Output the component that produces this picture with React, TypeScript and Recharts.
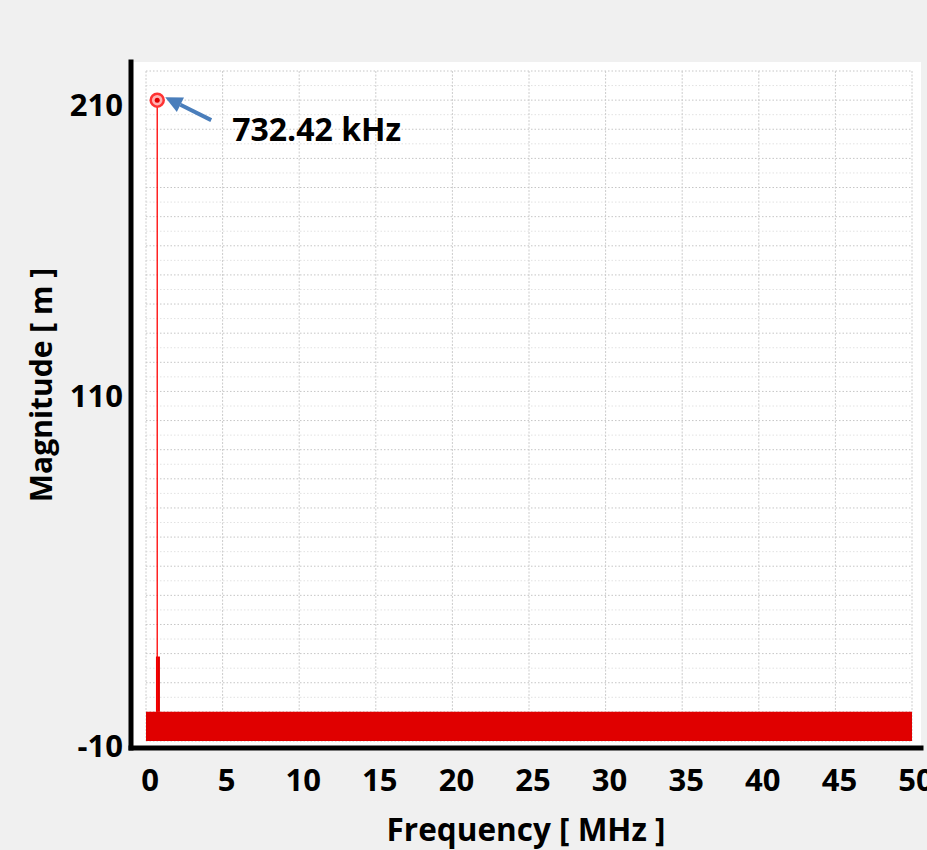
import React from 'react';
import { ComposedChart, XAxis, YAxis, Line, Area, Scatter, CartesianGrid } from 'recharts';

// spectrum values, frequency in MHz, magnitude in m
const freqTicks = [0, 5, 10, 15, 20, 25, 30, 35, 40, 45, 50];
const magTicks = [-10, 110, 210];
const noiseFloor = [
  { f: 0, band: [-10, 0] },
  { f: 50, band: [-10, 0] },
];
const peakStem = [
  { f: 0.732, v: 0 },
  { f: 0.732, v: 210 },
];
const sideSpike = [
  { f: 0.78, v: 0 },
  { f: 0.78, v: 19 },
];
const peakPoint = [{ f: 0.732, v: 210 }];
const peakLabel = '732.42 kHz';

// dotted grid every 5 units, darker every 10
const gridMajor = [-10, 0, 10, 20, 30, 40, 50, 60, 70, 80, 90, 100, 110, 120, 130, 140, 150, 160, 170, 180, 190, 200, 210, 220];
const gridMinor = [-5, 5, 15, 25, 35, 45, 55, 65, 75, 85, 95, 105, 115, 125, 135, 145, 155, 165, 175, 185, 195, 205, 215];

const FONT = '"Open Sans", Lato, sans-serif';
const RED = '#e00000';
const PAD_X = { left: 15, right: 9 };
const PAD_Y = { top: 9, bottom: 7 };

const YTick: React.FC<any> = ({ x, y, payload }) => (
  <text x={x} y={y + 4} textAnchor="end" dominantBaseline="central"
    fontFamily={FONT} fontWeight={700} fontSize={31} fill="#000">
    {payload.value}
  </text>
);

const XTick: React.FC<any> = ({ x, y, payload }) => (
  <text x={x + 4} y={y + 23} textAnchor="middle" dominantBaseline="central"
    fontFamily={FONT} fontWeight={700} fontSize={31} fill="#000">
    {payload.value}
  </text>
);

const YLabel: React.FC<any> = ({ viewBox }) => {
  const cx = viewBox.x + 40;
  const cy = viewBox.y + viewBox.height / 2 - 20;
  return (
    <text x={cx} y={cy} transform={`rotate(-90 ${cx} ${cy})`} textAnchor="middle" dominantBaseline="central"
      fontFamily={FONT} fontWeight={700} fontSize={30} fill="#000">
      Magnitude [ m ]
    </text>
  );
};

// grid lines kept inside the data range, not the padded plot box
const hLine = (color: string) => (p: any) => (
  <line key={p.key} x1={p.x1 + PAD_X.left} x2={p.x2 - PAD_X.right} y1={p.y1} y2={p.y2}
    stroke={color} strokeWidth={1} strokeDasharray="1.5 2" />
);
const vLine = (p: any) => (
  <line key={p.key} x1={p.x1} x2={p.x2} y1={p.y1 + PAD_Y.top} y2={p.y2 - PAD_Y.bottom}
    stroke="#cccccc" strokeWidth={1} strokeDasharray="2 1.5" />
);

// peak marker with the arrow and frequency callout
const PeakMarker: React.FC<any> = ({ cx, cy }) => {
  const tx = cx + 54, ty = cy + 20;
  const hx = cx + 8, hy = cy - 3;
  const ang = Math.atan2(hy - ty, hx - tx);
  const len = 17, half = 8;
  const bx = hx - len * Math.cos(ang), by = hy - len * Math.sin(ang);
  const px = -Math.sin(ang) * half, py = Math.cos(ang) * half;
  return (
    <g>
      <line x1={tx} y1={ty} x2={bx} y2={by} stroke="#4a7ebb" strokeWidth={4} />
      <polygon points={`${hx},${hy} ${bx + px},${by + py} ${bx - px},${by - py}`} fill="#4a7ebb" />
      <circle cx={cx} cy={cy} r={6.5} fill="#ffb3b3" stroke="#ff3333" strokeWidth={2.5} />
      <circle cx={cx} cy={cy} r={2.5} fill={RED} />
      <text x={cx + 75} y={cy + 41} fontFamily={FONT} fontWeight={700} fontSize={32} fill="#000">
        {peakLabel}
      </text>
    </g>
  );
};

export default function App() {
  return (
    <div style={{ position: 'absolute', left: 0, top: 0, width: 927, height: 850, background: '#f0f0f0', overflow: 'hidden' }}>
      <ComposedChart width={927} height={850} margin={{ top: 62, right: 6, bottom: 0, left: 0 }}>
        <CartesianGrid fill="#fff" horizontalValues={gridMinor} horizontal={hLine('#e2e2e2')} vertical={false} />
        <CartesianGrid horizontalValues={gridMajor} horizontal={hLine('#c6c6c6')} verticalValues={freqTicks} vertical={vLine} />
        <XAxis
          type="number"
          dataKey="f"
          domain={[0, 50]}
          ticks={freqTicks}
          allowDataOverflow
          padding={PAD_X}
          height={102}
          axisLine={{ stroke: '#000', strokeWidth: 5, strokeLinecap: 'square' }}
          tickLine={false}
          tick={<XTick />}
          label={{ value: 'Frequency [ MHz ]', position: 'insideBottom', offset: 9, fontFamily: FONT, fontWeight: 700, fontSize: 31.5, fill: '#000' }}
        />
        <YAxis
          type="number"
          dataKey="v"
          domain={[-10, 220]}
          ticks={magTicks}
          allowDataOverflow
          padding={PAD_Y}
          width={131}
          axisLine={{ stroke: '#000', strokeWidth: 5, strokeLinecap: 'square' }}
          tickLine={false}
          tick={<YTick />}
          label={<YLabel />}
        />
        <Area data={noiseFloor} dataKey="band" type="linear" fill={RED} fillOpacity={1} stroke="none" isAnimationActive={false} />
        <Line data={sideSpike} dataKey="v" type="linear" stroke={RED} strokeWidth={4} dot={false} isAnimationActive={false} />
        <Line data={peakStem} dataKey="v" type="linear" stroke="#ff0000" strokeWidth={1.3} dot={false} isAnimationActive={false} />
        <Scatter data={peakPoint} dataKey="v" shape={<PeakMarker />} isAnimationActive={false} />
      </ComposedChart>
    </div>
  );
}
